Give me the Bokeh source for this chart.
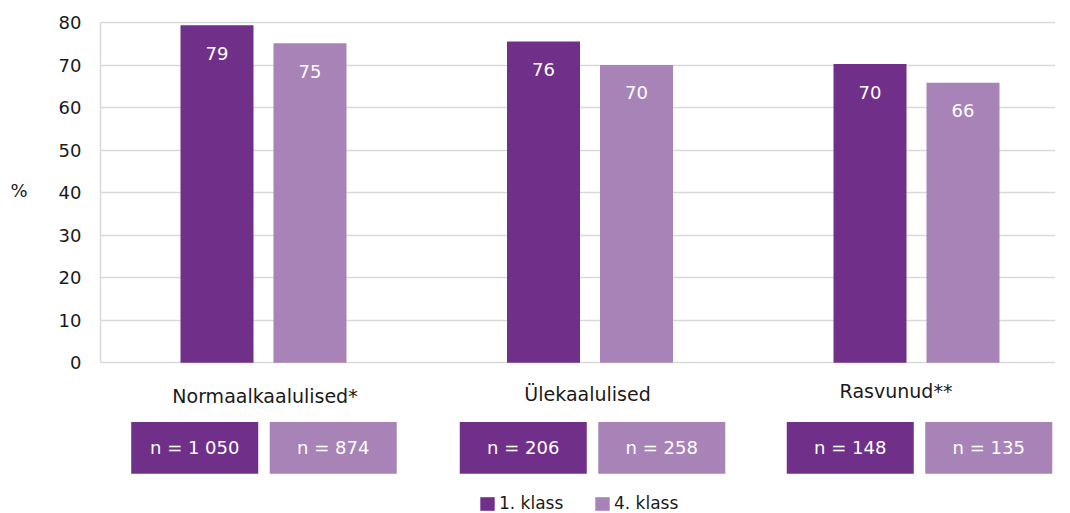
from bokeh.plotting import figure
from bokeh.layouts import column
from bokeh.models import ColumnDataSource, Range1d, FixedTicker, Legend, LegendItem
from bokeh.core.properties import value
from bokeh.embed import file_html
from bokeh.resources import INLINE

# ---------------- data ----------------
categories = ["Normaalkaalulised*", "Ülekaalulised", "Rasvunud**"]
series_names = ["1. klass", "4. klass"]
klass1 = [79.4, 75.6, 70.3]
klass4 = [75.2, 70.1, 65.9]
n_klass1 = [1050, 206, 148]
n_klass4 = [874, 258, 135]
y_ticks = [0, 10, 20, 30, 40, 50, 60, 70, 80]
y_unit = "%"

# ---------------- layout / style ----------------
DARK = "#70308A"
LIGHT = "#A883B8"
GRID = "#d9d9d9"
TEXT = "#1a1a1a"
FONT = "DejaVu Sans"

BAR_W = 0.2236
BAR_OFF = 0.1424
LABEL_DROP = 6.6                          # value label drop below bar top (data units)
cat_label_x = [0.0046, 0.9924, 1.9372]     # category label centres
cat_label_y = [-7.8, -7.3, -6.6]
box_group_x = [0.0015, 1.0077, 2.0092]     # centre of each pair of n-boxes
BOX_W = 0.389
BOX_GAP = 0.0352
BOX_Y = -20.0
BOX_H = 12.16

x_range = Range1d(-0.4992, 2.4257)
common = dict(width=1070, output_backend="svg", toolbar_location=None,
              x_range=x_range, min_border_left=100, min_border_right=15,
              min_border_top=0, min_border_bottom=0, x_axis_location=None)

# ---------- top: bars ----------
p = figure(height=380, y_range=Range1d(-4.16, 85.25), **common)
p.outline_line_color = None
p.xgrid.visible = False
p.ygrid.ticker = FixedTicker(ticks=y_ticks)
p.ygrid.grid_line_color = GRID
p.ygrid.grid_line_width = 1.5

ax = p.yaxis[0]
ax.ticker = FixedTicker(ticks=y_ticks)
ax.bounds = (0, 80)
ax.axis_line_color = GRID
ax.axis_line_width = 1.5
ax.major_tick_line_color = None
ax.minor_tick_line_color = None
ax.major_tick_out = 0
ax.major_label_standoff = 19
ax.major_label_text_font = FONT
ax.major_label_text_font_size = "18px"
ax.major_label_text_color = TEXT
ax.axis_label = y_unit
ax.axis_label_orientation = "horizontal"
ax.axis_label_standoff = 28
ax.axis_label_text_font = FONT
ax.axis_label_text_font_size = "18px"
ax.axis_label_text_font_style = "normal"
ax.axis_label_text_color = TEXT

idx = list(range(len(categories)))

src1 = ColumnDataSource(dict(x=[i - BAR_OFF for i in idx], top=klass1,
                             ly=[v - LABEL_DROP for v in klass1],
                             lab=[str(round(v)) for v in klass1]))
src4 = ColumnDataSource(dict(x=[i + BAR_OFF for i in idx], top=klass4,
                             ly=[v - LABEL_DROP for v in klass4],
                             lab=[str(round(v)) for v in klass4]))

p.vbar(x="x", top="top", bottom=0, width=BAR_W, source=src1,
       fill_color=DARK, line_color=None)
p.vbar(x="x", top="top", bottom=0, width=BAR_W, source=src4,
       fill_color=LIGHT, line_color=None)

for src in (src1, src4):
    p.text(x="x", y="ly", text="lab", source=src, text_color="white",
           text_font=value(FONT), text_font_size="18px",
           text_align="center", text_baseline="middle")

# ---------- bottom: category labels, n boxes, legend ----------
q = figure(height=133, y_range=Range1d(-35.46, -4.16), y_axis_location=None,
           **common)
q.outline_line_color = None
q.xgrid.visible = False
q.ygrid.visible = False

# hidden copies of the series bars: they only supply the legend swatches
l1 = q.vbar(x="x", top="top", bottom=0, width=BAR_W, source=src1,
            fill_color=DARK, line_color=None, visible=False)
l4 = q.vbar(x="x", top="top", bottom=0, width=BAR_W, source=src4,
            fill_color=LIGHT, line_color=None, visible=False)

q.text(x=cat_label_x, y=cat_label_y, text=categories, text_color=TEXT,
       text_font=value(FONT), text_font_size="19px",
       text_align="center", text_baseline="middle")


def fmt(n):
    return "n = " + f"{n:,}".replace(",", " ")


bx, bc, bt = [], [], []
for i in idx:
    half = (BOX_W + BOX_GAP) / 2
    bx += [box_group_x[i] - half, box_group_x[i] + half]
    bc += [DARK, LIGHT]
    bt += [fmt(n_klass1[i]), fmt(n_klass4[i])]

q.rect(x=bx, y=[BOX_Y] * len(bx), width=BOX_W, height=BOX_H,
       fill_color=bc, line_color=None)
q.text(x=bx, y=[BOX_Y] * len(bx), text=bt, text_color="white",
       text_font=value(FONT), text_font_size="18px",
       text_align="center", text_baseline="middle")

legend = Legend(items=[LegendItem(label=series_names[0], renderers=[l1]),
                       LegendItem(label=series_names[1], renderers=[l4])],
                orientation="horizontal", location=(378, 0),
                glyph_width=18, glyph_height=17, label_height=17,
                label_standoff=3, label_width=94, spacing=0, padding=0,
                margin=0, border_line_color=None, background_fill_alpha=0,
                inactive_fill_alpha=0,
                label_text_font=FONT, label_text_font_size="17px",
                label_text_color=TEXT)
q.add_layout(legend)

layout = column(p, q, spacing=0)
open("out.html", "w").write(file_html(layout, INLINE))
